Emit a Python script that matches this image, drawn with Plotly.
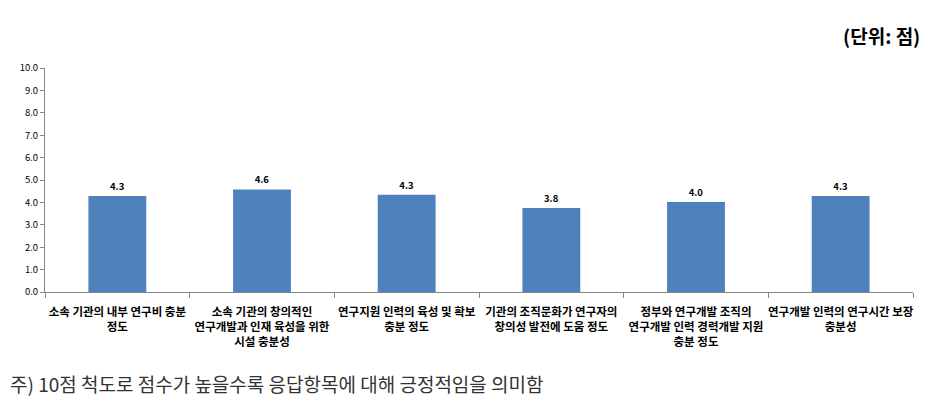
import plotly.graph_objects as go

categories = [
    "소속 기관의 내부 연구비 충분<br>정도",
    "소속 기관의 창의적인<br>연구개발과 인재 육성을 위한<br>시설 충분성",
    "연구지원 인력의 육성 및 확보<br>충분 정도",
    "기관의 조직문화가 연구자의<br>창의성 발전에 도움 정도",
    "정부와 연구개발 조직의<br>연구개발 인력 경력개발 지원<br>충분 정도",
    "연구개발 인력의 연구시간 보장<br>충분성",
]
values = [4.29, 4.58, 4.34, 3.75, 4.02, 4.29]
y_ticks = [0, 1, 2, 3, 4, 5, 6, 7, 8, 9, 10]

FONT = "Noto Sans CJK KR"

fig = go.Figure(go.Bar(
    x=categories, y=values,
    marker=dict(color="#4F81BD", line=dict(color="#4F81BD", width=0)),
    text=[f"<b>{v:.1f}</b>" for v in values],
    textposition="outside",
    textfont=dict(family=FONT, size=9.5, color="#000000"),
    cliponaxis=False,
    width=0.4,
))

fig.update_layout(
    width=938, height=411,
    margin=dict(l=45, r=25, t=68, b=119, autoexpand=False),
    paper_bgcolor="white", plot_bgcolor="white",
    showlegend=False,
    font=dict(family=FONT, color="#000000"),
    bargap=0.6,
)
fig.update_xaxes(
    showline=True, linecolor="#868686", linewidth=1,
    ticks="outside", tickson="boundaries", ticklen=5, tickcolor="#868686",
    tickfont=dict(family=FONT, size=11.5, color="#000000"),
    tickprefix="<b>", ticksuffix="</b>",
    tickangle=0, automargin=False, ticklabelstandoff=9,
    showgrid=False,
)
fig.update_yaxes(
    range=[0, 10], tickvals=y_ticks, tickformat=".1f",
    showline=True, linecolor="#868686", linewidth=1,
    ticks="outside", ticklen=4, tickcolor="#868686",
    tickfont=dict(family=FONT, size=9.5, color="#000000"),
    tickprefix="<b>", ticksuffix="</b>",
    automargin=False,
    showgrid=False, zeroline=False,
)

fig.add_annotation(
    text="<b>(단위: 점)</b>", xref="paper", yref="paper",
    x=1.0, xshift=9, y=1.0, yshift=33, xanchor="right", yanchor="middle",
    showarrow=False, font=dict(family=FONT, size=19, color="#000000"),
)
fig.add_annotation(
    text="주) 10점 척도로 점수가 높을수록 응답항목에 대해 긍정적임을 의미함",
    xref="paper", yref="paper", x=0, xshift=-37, y=0, yshift=-91,
    xanchor="left", yanchor="middle", showarrow=False,
    font=dict(family=FONT, size=19, color="#333333"),
)

fig.write_html("out.html")
